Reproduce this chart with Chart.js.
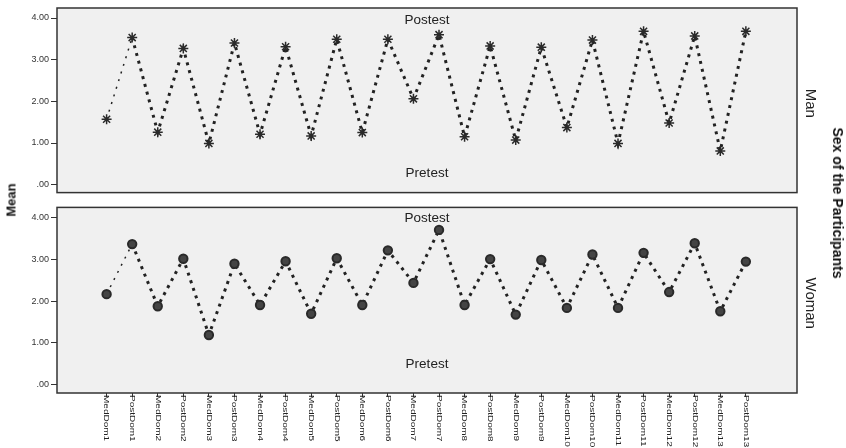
<!DOCTYPE html>
<html>
<head>
<meta charset="utf-8">
<script src="https://cdn.jsdelivr.net/npm/chart.js@4"></script>
<style>
  body { margin: 0; background: #fff; font-family: "Liberation Sans", Arial, sans-serif; }
  #wrap { position: relative; width: 846px; height: 448px; overflow: hidden; }
  .box { position: absolute; left: 0; width: 846px; }
  .vt { position: absolute; white-space: nowrap; color: #111; font-weight: bold; }
</style>
</head>
<body>
<div id="wrap">
  <div class="box" style="top:0;height:200px"><canvas id="manChart"></canvas></div>
  <div class="box" style="top:200px;height:248px"><canvas id="womanChart"></canvas></div>
  <div class="vt" id="meanTitle" style="font-size:13px;left:11px;top:200px;transform:translate(-50%,-50%) rotate(-90deg)">Mean</div>
  <div class="vt" id="sexTitle" style="font-size:14px;left:838px;top:203px;transform:translate(-50%,-50%) rotate(90deg)">Sex of the Participants</div>
</div>
<script>
// categories along the x axis
const categories = [
  'MedDom1', 'PostDom1', 'MedDom2', 'PostDom2', 'MedDom3', 'PostDom3', 'MedDom4', 'PostDom4',
  'MedDom5', 'PostDom5', 'MedDom6', 'PostDom6', 'MedDom7', 'PostDom7', 'MedDom8', 'PostDom8',
  'MedDom9', 'PostDom9', 'MedDom10', 'PostDom10', 'MedDom11', 'PostDom11', 'MedDom12', 'PostDom12',
  'MedDom13', 'PostDom13'
];

// mean values per panel
const manMeans = [1.57, 3.53, 1.26, 3.27, 0.99, 3.40, 1.21, 3.31, 1.17, 3.49, 1.25, 3.49, 2.06,
                  3.60, 1.15, 3.33, 1.07, 3.30, 1.37, 3.47, 0.99, 3.68, 1.48, 3.57, 0.81, 3.68];
const womanMeans = [2.17, 3.37, 1.88, 3.02, 1.19, 2.90, 1.91, 2.96, 1.70, 3.03, 1.91, 3.22, 2.44,
                    3.71, 1.91, 3.01, 1.68, 2.99, 1.84, 3.12, 1.84, 3.16, 2.22, 3.39, 1.76, 2.95];

const yTicks = [0, 1, 2, 3, 4];
const font = '"Liberation Sans", Arial, sans-serif';

// background + frame + panel texts
function panelPlugin(name, postY, preY, drawXLabels) {
    return {
        id: 'panel',
        beforeDraw(chart) {
            const { ctx, chartArea: a } = chart;
            ctx.save();
            ctx.fillStyle = '#f0f0f0';
            ctx.fillRect(a.left, a.top, a.right - a.left, a.bottom - a.top);
            ctx.restore();
        },
        afterDraw(chart) {
            const { ctx, chartArea: a } = chart;
            const y = chart.scales.y;
            ctx.save();
            ctx.strokeStyle = '#333';
            ctx.lineWidth = 1.5;
            ctx.strokeRect(a.left, a.top, a.right - a.left, a.bottom - a.top);

            const cx = (a.left + a.right) / 2;
            ctx.fillStyle = '#222';
            ctx.font = '13.5px ' + font;
            ctx.textAlign = 'center';
            ctx.textBaseline = 'middle';
            ctx.fillText('Postest', cx, y.getPixelForValue(postY));
            ctx.fillText('Pretest', cx, y.getPixelForValue(preY));

            // panel name on the right, reading top to bottom
            ctx.font = '15px ' + font;
            ctx.translate(a.right + 13, (a.top + a.bottom) / 2 + 3);
            ctx.rotate(Math.PI / 2);
            ctx.fillText(name, 0, 0);
            ctx.restore();

            if (drawXLabels) {
                const x = chart.scales.x;
                ctx.save();
                ctx.fillStyle = '#222';
                ctx.font = '10px ' + font;
                ctx.textAlign = 'left';
                ctx.textBaseline = 'middle';
                categories.forEach((label, i) => {
                    ctx.save();
                    ctx.translate(x.getPixelForValue(i), a.bottom + 2);
                    ctx.rotate(Math.PI / 2);
                    ctx.scale(1, 0.8);
                    ctx.fillText(label, 0, 0);
                    ctx.restore();
                });
                ctx.restore();
            }
        }
    };
}

function makeChart(id, values, opts) {
    const ctx = document.getElementById(id).getContext('2d');
    return new Chart(ctx, {
        type: 'line',
        data: {
            datasets: [{
                data: values.map((v, i) => ({ x: i, y: v })),
                borderColor: '#222',
                borderWidth: 3,
                borderDash: [3, 5],
                borderCapStyle: 'butt',
                tension: 0,
                pointStyle: opts.pointStyle,
                pointRadius: opts.pointRadius,
                pointBorderWidth: opts.pointBorderWidth,
                pointBorderColor: '#2a2a2a',
                pointBackgroundColor: opts.pointFill,
                segment: {
                    // first segment is drawn thinner in the original
                    borderWidth: c => c.p0DataIndex === 0 ? 1.5 : 3,
                    borderDash: c => c.p0DataIndex === 0 ? [2, 6] : [3, 5]
                }
            }]
        },
        options: {
            responsive: true,
            maintainAspectRatio: false,
            animation: false,
            layout: { padding: { left: 0, right: 49, top: opts.padTop, bottom: opts.padBottom } },
            plugins: { legend: { display: false }, tooltip: { enabled: false } },
            scales: {
                x: {
                    type: 'linear',
                    display: opts.showX,
                    min: -1.94,
                    max: 27.0,
                    afterBuildTicks: s => { s.ticks = categories.map((_, i) => ({ value: i })); },
                    afterFit: s => { if (opts.showX) s.height = 55; },
                    ticks: { display: false },
                    grid: { drawOnChartArea: false, drawTicks: true, tickLength: 4, color: '#333', lineWidth: 1 },
                    border: { display: false }
                },
                y: {
                    min: opts.yMin,
                    max: opts.yMax,
                    afterBuildTicks: s => { s.ticks = yTicks.map(v => ({ value: v })); },
                    afterFit: s => { s.width = 57; },
                    ticks: {
                        color: '#333',
                        padding: 2,
                        font: { family: font, size: 9 },
                        callback: v => v === 0 ? '.00' : v.toFixed(2)
                    },
                    grid: { drawOnChartArea: false, drawTicks: true, tickLength: 6, color: '#333', lineWidth: 1 },
                    border: { display: false }
                }
            }
        },
        plugins: [panelPlugin(opts.name, opts.postY, opts.preY, opts.showX)]
    });
}

makeChart('manChart', manMeans, {
    name: 'Man', postY: 3.95, preY: 0.28,
    pointStyle: 'star', pointRadius: 5, pointBorderWidth: 1.5, pointFill: '#2a2a2a',
    padTop: 8, padBottom: 3, yMin: -0.19, yMax: 4.24, showX: false
});

makeChart('womanChart', womanMeans, {
    name: 'Woman', postY: 4.0, preY: 0.49,
    pointStyle: 'circle', pointRadius: 4.2, pointBorderWidth: 2, pointFill: '#444',
    padTop: 2.5, padBottom: 0, yMin: -0.20, yMax: 4.25, showX: true
});
</script>
</body>
</html>
